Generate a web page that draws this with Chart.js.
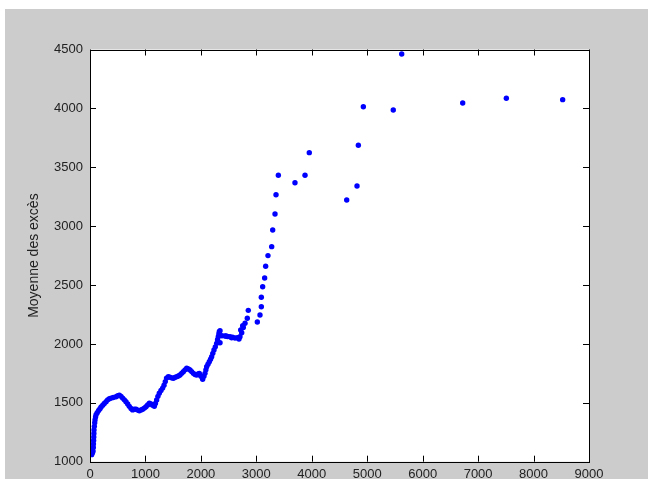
<!DOCTYPE html>
<html>
<head>
<meta charset="utf-8">
<script src="https://cdn.jsdelivr.net/npm/chart.js@4.4.1/dist/chart.umd.min.js"></script>
<style>
  html, body { margin: 0; padding: 0; background: #ffffff; }
  #wrap { position: relative; width: 648px; height: 479px; }
  canvas { display: block; }
</style>
</head>
<body>
<div id="wrap"><canvas id="c" width="648" height="479"></canvas></div>
<script>
// ---- data ----
const xValues = [
  10,20,30,45,55,60,62,65,68,70,72,78,85,90,100,110,130,156,180,200,230,258,290,318,350,380,420,469,500,529,
  560,589,620,649,680,709,740,769,800,830,860,890,920,950,980,1010,1040,1070,1100,1130,1160,1180,1202,1225,1250,1280,1310,1335,1358,1380,
  1412,1440,1470,1502,1530,1563,1593,1623,1653,1683,1714,1744,1774,1804,1834,1864,1894,1924,1950,1972,2000,2032,2055,2074,2090,2104,2128,2152,2174,2194,
  2215,2236,2260,2284,2300,2314,2325,2332,2345,2345,2380,2435,2453,2480,2525,2555,2570,2615,2660,2687,2705,2718,2736,2754,2765,2796,2837,2855,3018,3066,
  3090,3090,3114,3150,3168,3210,3277,3295,3337,3355,3397,3697,3878,3955,4630,4816,4840,4930,5470,5622,6722,7509,8525
];
const yValues = [
  1080,1065,1060,1075,1090,1120,1150,1180,1210,1240,1270,1300,1330,1355,1380,1400,1415,1435,1450,1465,1480,1495,1510,1525,1535,1540,1545,1552,1560,1565,
  1555,1540,1525,1510,1490,1470,1452,1440,1445,1445,1438,1432,1440,1445,1455,1467,1482,1496,1490,1480,1470,1495,1524,1555,1581,1605,1625,1650,1680,1710,
  1722,1718,1712,1708,1715,1722,1728,1736,1750,1764,1780,1793,1788,1779,1765,1750,1740,1736,1745,1750,1725,1700,1725,1750,1780,1807,1828,1849,1870,1892,
  1920,1948,1975,2005,2035,2061,2085,2104,2112,2010,2070,2067,2067,2063,2061,2053,2058,2050,2052,2042,2061,2118,2095,2155,2140,2175,2218,2285,2186,2246,
  2316,2396,2486,2560,2659,2750,2826,2967,3103,3267,3432,3369,3432,3624,3222,3341,3687,4014,3986,4462,4046,4086,4074
];
const xTicks = [0,1000,2000,3000,4000,5000,6000,7000,8000,9000];
const yTicks = [1000,1500,2000,2500,3000,3500,4000,4500];
const yTitle = 'Moyenne des excès';

const points = xValues.map((x, i) => ({ x: x, y: yValues[i] }));

const FONT = '"Liberation Sans", Arial, sans-serif';

const frame = {
  id: 'frame',
  beforeDraw(chart) {
    const ctx = chart.ctx;
    const a = chart.chartArea;
    ctx.save();
    ctx.fillStyle = '#ffffff';
    ctx.fillRect(0, 0, chart.width, chart.height);
    ctx.fillStyle = '#cccccc';
    ctx.fillRect(5, 9, chart.width - 5, chart.height - 9);
    ctx.fillStyle = '#ffffff';
    ctx.fillRect(a.left, a.top, a.right - a.left, a.bottom - a.top);
    ctx.restore();
  },
  afterDraw(chart) {
    const ctx = chart.ctx;
    const a = chart.chartArea;
    const xs = chart.scales.x, ys = chart.scales.y;
    const L = 6;
    ctx.save();
    ctx.strokeStyle = '#000000';
    ctx.lineWidth = 1;
    ctx.beginPath();
    xTicks.forEach(v => {
      const px = Math.round(xs.getPixelForValue(v)) + 0.5;
      ctx.moveTo(px, a.bottom); ctx.lineTo(px, a.bottom - L);
      ctx.moveTo(px, a.top); ctx.lineTo(px, a.top + L);
    });
    yTicks.forEach(v => {
      const py = Math.round(ys.getPixelForValue(v)) + 0.5;
      ctx.moveTo(a.left, py); ctx.lineTo(a.left + L, py);
      ctx.moveTo(a.right, py); ctx.lineTo(a.right - L, py);
    });
    ctx.stroke();
    ctx.strokeRect(Math.round(a.left) + 0.5, Math.round(a.top) + 0.5,
                   Math.round(a.right - a.left), Math.round(a.bottom - a.top));
    ctx.restore();
  }
};

new Chart(document.getElementById('c'), {
  type: 'scatter',
  data: {
    datasets: [{
      data: points,
      backgroundColor: '#0000ff',
      borderColor: '#0000ff',
      borderWidth: 0,
      pointRadius: 2.7,
      pointHoverRadius: 2.7
    }]
  },
  options: {
    responsive: false,
    animation: false,
    devicePixelRatio: 1,
    layout: { padding: { left: 0, top: 49.5, right: 59, bottom: 0 } },
    plugins: { legend: { display: false }, tooltip: { enabled: false } },
    scales: {
      x: {
        type: 'linear',
        min: 0, max: 9000,
        afterBuildTicks: s => { s.ticks = xTicks.map(v => ({ value: v })); },
        afterFit: s => { s.height = 17.3; },
        grid: { display: false, drawTicks: false },
        border: { display: false },
        ticks: { color: '#222222', font: { family: FONT, size: 13 }, padding: 5, maxRotation: 0, autoSkip: false,
                 callback: v => String(v) }
      },
      y: {
        type: 'linear',
        min: 1000, max: 4500,
        afterBuildTicks: s => { s.ticks = yTicks.map(v => ({ value: v })); },
        afterFit: s => { s.width = 90; },
        grid: { display: false, drawTicks: false },
        border: { display: false },
        ticks: { color: '#222222', font: { family: FONT, size: 13 }, padding: 7, autoSkip: false,
                 callback: v => String(v) },
        title: { display: true, text: yTitle, color: '#222222', font: { family: FONT, size: 14 }, padding: { top: 26, bottom: 0 } }
      }
    }
  },
  plugins: [frame]
});
</script>
</body>
</html>
